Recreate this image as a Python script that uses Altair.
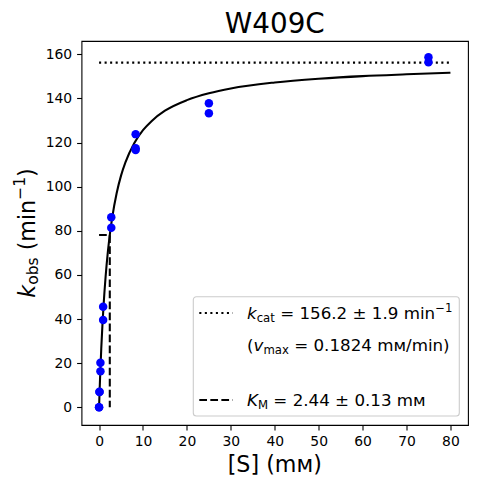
import altair as alt
import pandas as pd

# ---------------- data ----------------
S_points = [0, 0, 0.1, 0.1, 0.31, 0.31, 0.93, 0.93, 2.78, 2.78, 8.33, 8.33, 8.33, 25, 25, 75, 75]
k_points = [0, 0, 7.1, 7.0, 20.2, 16.3, 45.6, 39.6, 86.1, 81.4, 123.8, 117.4, 116.6, 137.8, 133.3, 158.6, 156.4]

fit_S = [0, 0.1, 0.25, 0.5, 0.75, 1, 1.5, 2, 2.5, 3, 4, 5, 6, 8, 10, 12, 15, 20, 25, 30, 40, 50, 60, 70, 80]
fit_k = [0, 6.2, 14.5, 26.6, 36.7, 45.4, 59.5, 70.4, 79.1, 86.1, 97.0, 105.0, 111.0, 119.7, 125.6,
         129.8, 134.4, 139.2, 142.3, 144.5, 147.2, 148.9, 150.1, 150.9, 151.6]

kcat_S = [0, 80]
kcat_k = [156.2, 156.2]
km_S = [0, 2.44, 2.44]
km_k = [78.1, 78.1, 0]

title_text = "W409C"
x_title = "[S] (mм)"
x_ticks = [0, 10, 20, 30, 40, 50, 60, 70, 80]
y_ticks = [0, 20, 40, 60, 80, 100, 120, 140, 160]

FONT = "DejaVu Sans"
W = {' ': 0.318, '(': 0.390, ')': 0.390, '−': 0.838, '.': 0.318, '/': 0.337, '=': 0.838,
     '±': 0.838, 'a': 0.613, 'b': 0.635, 'c': 0.550, 'i': 0.278, 'k': 0.579, 'm': 0.974,
     'n': 0.634, 'o': 0.612, 's': 0.521, 't': 0.392, 'v': 0.592, 'x': 0.592, 'M': 0.863,
     'K': 0.656, 'м': 0.75}
for d in "0123456789":
    W[d] = 0.636

ONE = alt.Data(values=[{"a": 1}])

def text_width(parts):
    return sum(sum(W.get(c, 0.6) for c in t) * s for t, s, _, _ in parts)

def rich(parts, x0, y0, rotated=False):
    layers = []
    pos = 0.0
    for text, size, italic, shift in parts:
        stripped = text.lstrip(' ')
        pos += (len(text) - len(stripped)) * W[' '] * size
        kw = dict(text=stripped, fontSize=size, font=FONT, align="left",
                  baseline="alphabetic", color="black")
        if italic:
            kw["fontStyle"] = "italic"
        if rotated:
            kw["angle"] = 270
            x, y = x0 + shift, y0 - pos
        else:
            x, y = x0 + pos, y0 + shift
        layers.append(alt.Chart(ONE).mark_text(**kw).encode(x=alt.value(x), y=alt.value(y)))
        pos += sum(W.get(c, 0.6) for c in stripped) * size
    return layers

# ---------------- geometry (page px -> plot px) ----------------
PL, PT = 81.5, 41.0
PW, PH = 386.5, 384.0

X = alt.X("S:Q", scale=alt.Scale(domain=[-4, 84], nice=False, zero=False),
          axis=alt.Axis(values=x_ticks, title=None, grid=False, domain=False, format="d"))
Y = alt.Y("k:Q", scale=alt.Scale(domain=[-8, 166], nice=False, zero=False),
          axis=alt.Axis(values=y_ticks, title=None, grid=False, domain=False, format="d"))

df_pts = pd.DataFrame({"S": S_points, "k": k_points})
df_fit = pd.DataFrame({"S": fit_S, "k": fit_k})
df_kcat = pd.DataFrame({"S": kcat_S, "k": kcat_k})
df_km = pd.DataFrame({"S": km_S, "k": km_k, "i": [0, 1, 2]})

LW = 2.08
curve = alt.Chart(df_fit).mark_line(color="black", strokeWidth=LW, interpolate="monotone").encode(x=X, y=Y)
kcat_line = alt.Chart(df_kcat).mark_line(color="black", strokeWidth=LW, strokeDash=[2.08, 3.44]).encode(x=X, y=Y)
km_line = alt.Chart(df_km).mark_line(color="black", strokeWidth=LW, strokeDash=[7.7, 3.33]).encode(
    x=X, y=Y, order="i:Q")
points = alt.Chart(df_pts).mark_circle(size=72, color="#0000ff", opacity=1).encode(x=X, y=Y)

# legend box
leg_box = alt.Chart(ONE).mark_rect(fill="white", fillOpacity=0.8, stroke="#cccccc", strokeWidth=1.1,
                                   cornerRadius=3).encode(
    x=alt.value(193.3 - PL), x2=alt.value(459.3 - PL), y=alt.value(296.7 - PT), y2=alt.value(416 - PT))
leg_dot = alt.Chart(ONE).mark_rule(color="black", strokeWidth=LW, strokeDash=[2.08, 3.44]).encode(
    x=alt.value(199.3 - PL), x2=alt.value(232.7 - PL), y=alt.value(313 - PT))
leg_dash = alt.Chart(ONE).mark_rule(color="black", strokeWidth=LW, strokeDash=[7.7, 3.33]).encode(
    x=alt.value(199.3 - PL), x2=alt.value(232.7 - PL), y=alt.value(400 - PT))

FS, SS = 16.7, 11.7
row1 = [("k", FS, True, 0), ("cat", SS, False, 2.7), (" = 156.2 ± 1.9 min", FS, False, 0), ("−1", SS, False, -7.3)]
row2 = [("(", FS, False, 0), ("v", FS, True, 0), ("max", SS, False, 2.7), (" = 0.1824 mм/min)", FS, False, 0)]
row4 = [("K", FS, True, 0), ("M", SS, False, 2.7), (" = 2.44 ± 0.13 mм", FS, False, 0)]
LX = 247 - PL
legend_text = rich(row1, LX, 319 - PT) + rich(row2, LX, 351 - PT) + rich(row4, LX, 406 - PT)

# y title (rotated, with sub/superscripts)
YS, YSS = 22.2, 15.5
ytitle = [("k", YS, True, 0), ("obs", YSS, False, 3.6), (" (min", YS, False, 0), ("−1", YSS, False, -9.8), (")", YS, False, 0)]
ylen = text_width(ytitle)
ytitle_layers = rich(ytitle, 34.5 - PL, (PH / 2) + ylen / 2, rotated=True)

title = alt.Chart(ONE).mark_text(text=title_text, fontSize=27.8, font=FONT, align="center",
                                 baseline="alphabetic", color="black").encode(
    x=alt.value(PW / 2), y=alt.value(32.7 - PT))
xtitle = alt.Chart(ONE).mark_text(text=x_title, fontSize=22.2, font=FONT, align="center",
                                  baseline="alphabetic", color="black").encode(
    x=alt.value(PW / 2), y=alt.value(471.5 - PT))

chart = alt.layer(
    curve, kcat_line, km_line, points, leg_box, leg_dot, leg_dash,
    *legend_text, *ytitle_layers, title, xtitle
).properties(
    width=PW, height=PH,
    padding={"left": PL - 8, "top": PT - 8, "right": 2, "bottom": 58},
    autosize=alt.AutoSizeParams(type="none"),
).configure_view(
    stroke="black", strokeWidth=1.1
).configure_axis(
    labelFont=FONT, labelFontSize=13.9, labelColor="black", tickColor="black",
    tickSize=4.9, tickWidth=1.1, labelPadding=4.9
)

chart.save("out.html", embed_options={"renderer": "svg", "actions": False})
